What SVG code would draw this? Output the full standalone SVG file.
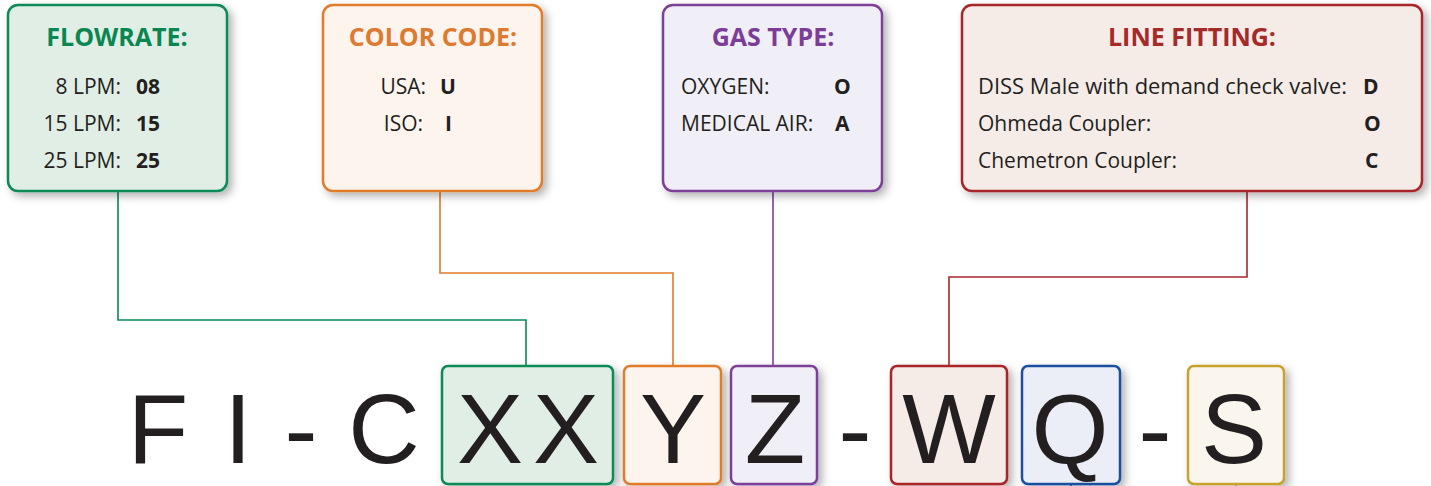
<svg xmlns="http://www.w3.org/2000/svg" width="1431" height="486" viewBox="0 0 1431 486">
<defs>
<filter id="sh" x="-10%" y="-10%" width="130%" height="130%">
<feDropShadow dx="4" dy="4" stdDeviation="4" flood-color="#000" flood-opacity="0.3"/>
</filter>
<style>
.box{stroke-width:2.5;filter:url(#sh)}
.title{font-family:"Open Sans","Noto Sans",sans-serif;font-weight:bold;font-size:25px;text-anchor:middle}
.t{font-family:"Open Sans","Noto Sans",sans-serif;font-size:21px;fill:#231f20}
.b{font-family:"Open Sans","Noto Sans",sans-serif;font-size:21px;font-weight:bold;fill:#231f20}
.r{text-anchor:end}
.big{font-family:"Liberation Sans",Arial,sans-serif;font-size:99px;fill:#231f20;text-anchor:middle}
.c{fill:none;stroke-width:1.6}
</style>
</defs>
<rect width="1431" height="486" fill="#fff"/>

<g id="connectors">
<polyline class="c" stroke="#078a55" points="118,191 118,320 526,320 526,366"/>
<polyline class="c" stroke="#e07b2a" stroke-width="2.2" points="440,191 440,273 673,273 673,366"/>
<polyline class="c" stroke="#7d3f98" stroke-width="2.6" points="773,191 773,366"/>
<polyline class="c" stroke="#a8262a" points="1247,191 1247,277 949,277 949,366"/>
<line class="c" stroke="#1e4fa0" x1="1071" y1="484" x2="1071" y2="490"/>
<line class="c" stroke="#c9a22e" x1="1236" y1="484" x2="1236" y2="490"/>
</g>

<g id="flowrate">
<rect class="box" x="8" y="5" width="219" height="186" rx="10" fill="#e1eee6" stroke="#078a55"/>
<text class="title" x="117" y="46" fill="#0a8650">FLOWRATE:</text>
<text class="t r" x="121" y="94">8 LPM:</text><text class="b" x="136" y="94">08</text>
<text class="t r" x="121" y="131">15 LPM:</text><text class="b" x="136" y="131">15</text>
<text class="t r" x="121" y="168">25 LPM:</text><text class="b" x="136" y="168">25</text>
</g>

<g id="colorcode">
<rect class="box" x="323" y="5" width="219" height="186" rx="10" fill="#fdf4ee" stroke="#e07b2a"/>
<text class="title" x="433" y="46" fill="#dd7a30">COLOR CODE:</text>
<text class="t r" x="426" y="94">USA:</text><text class="b" x="440" y="94">U</text>
<text class="t r" x="423" y="131">ISO:</text><text class="b" x="445" y="131">I</text>
</g>

<g id="gastype">
<rect class="box" x="663" y="5" width="219" height="186" rx="10" fill="#f0eef6" stroke="#7d3f98"/>
<text class="title" x="773" y="46" fill="#7b3d97">GAS TYPE:</text>
<text class="t" x="681" y="94">OXYGEN:</text><text class="b" x="834" y="94">O</text>
<text class="t" x="681" y="131">MEDICAL AIR:</text><text class="b" x="835" y="131">A</text>
</g>

<g id="linefitting">
<rect class="box" x="962" y="5" width="460" height="186" rx="10" fill="#f5ece8" stroke="#a8262a"/>
<text class="title" x="1192" y="46" fill="#a52a2a">LINE FITTING:</text>
<text class="t" x="978" y="94" textLength="369" lengthAdjust="spacingAndGlyphs">DISS Male with demand check valve:</text><text class="b" x="1363" y="94">D</text>
<text class="t" x="978" y="131">Ohmeda Coupler:</text><text class="b" x="1364" y="131">O</text>
<text class="t" x="978" y="168">Chemetron Coupler:</text><text class="b" x="1365" y="168">C</text>
</g>

<g id="code">
<text class="big" x="158" y="463">F</text>
<text class="big" x="238" y="463">I</text>
<text class="big" x="301" y="463">-</text>
<text class="big" x="384" y="463">C</text>
<text class="big" x="855" y="463">-</text>
<text class="big" x="1155" y="463">-</text>
</g>

<g id="xx">
<rect class="box" x="442" y="366" width="171" height="118" rx="6" fill="#e1eee6" stroke="#078a55"/>
<text class="big" x="490" y="463">X</text>
<text class="big" x="566" y="463">X</text>
</g>
<g id="y">
<rect class="box" x="624" y="366" width="97" height="118" rx="6" fill="#fdf4ee" stroke="#e07b2a"/>
<text class="big" x="673" y="463">Y</text>
</g>
<g id="z">
<rect class="box" x="731" y="366" width="86" height="118" rx="6" fill="#f0eef6" stroke="#7d3f98"/>
<text class="big" x="775" y="463">Z</text>
</g>
<g id="w">
<rect class="box" x="891" y="366" width="116" height="118" rx="6" fill="#f5ece8" stroke="#a8262a"/>
<text class="big" x="949" y="463">W</text>
</g>
<g id="q">
<rect class="box" x="1022" y="366" width="98" height="118" rx="6" fill="#eceef7" stroke="#1e4fa0"/>
<text class="big" x="1070" y="463">Q</text>
</g>
<g id="s">
<rect class="box" x="1188" y="366" width="96" height="118" rx="6" fill="#faf6ee" stroke="#c9a22e"/>
<text class="big" x="1234" y="463">S</text>
</g>
</svg>
